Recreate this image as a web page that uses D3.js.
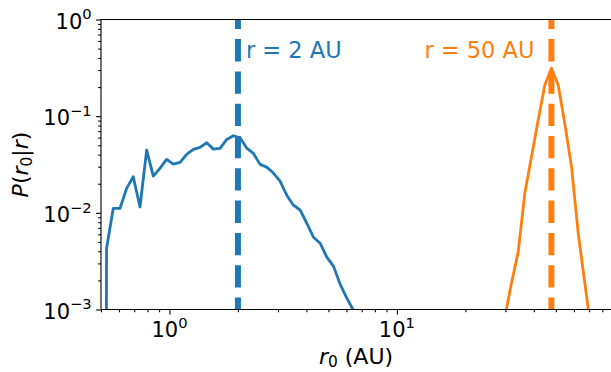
<!DOCTYPE html>
<html>
<head>
<meta charset="utf-8">
<script src="https://cdn.jsdelivr.net/npm/d3@7"></script>
<style>
  body { margin: 0; background: #fff; }
  svg { display: block; font-family: "DejaVu Sans", sans-serif; }
</style>
</head>
<body>
<div id="chart"></div>
<script>
// P(r0 | r) for r = 2 AU (blue) and r = 50 AU (orange)
var blueX = [0.495, 0.529, 0.566, 0.606, 0.648, 0.693, 0.742, 0.794, 0.849, 0.908, 0.972,
             1.040, 1.113, 1.190, 1.274, 1.362, 1.458, 1.560, 1.669, 1.785, 1.910, 2.044,
             2.186, 2.339, 2.502, 2.677, 2.864, 3.064, 3.279, 3.508, 3.753, 4.015, 4.295,
             4.596, 4.917, 5.260, 5.628, 6.022, 6.442]
var blueY = [1e-30, 0.00431, 0.0111, 0.0111, 0.0179, 0.0236, 0.0115, 0.0446, 0.0240, 0.0288, 0.0357,
             0.0319, 0.0332, 0.0403, 0.0453, 0.0475, 0.0531, 0.0456, 0.0464, 0.0575, 0.0627, 0.0598,
             0.0468, 0.0412, 0.0317, 0.0297, 0.0258, 0.0213, 0.0152, 0.0120, 0.0107, 0.00782, 0.00560,
             0.00485, 0.00348, 0.00281, 0.00183, 0.00131, 0.00098]

var orangeX = [29.81, 31.89, 34.14, 36.50, 39.05, 41.80, 44.71, 47.83, 51.19, 54.74, 58.58, 62.69, 67.03, 71.74]
var orangeY = [0.00083, 0.00187, 0.00395, 0.0159, 0.0377, 0.0911, 0.210, 0.313, 0.210, 0.0828, 0.0299, 0.00612, 0.00187, 0.00057]

var refLines = [2, 47.8]
var refLabels = ["r = 2 AU", "r = 50 AU"]
var colors = ["#1f77b4", "#ff7f0e"]

var xTickExp = [0, 1]
var yTickExp = [-3, -2, -1, 0]

var W = 611, H = 372
// plot box (window.top is reserved, so prefix these)
var pLeft = 101, pRight = 611.5, pTop = 19.5, pBottom = 309.5

var svg = d3.select("#chart").append("svg")
  .attr("width", W)
  .attr("height", H)

var x = d3.scaleLog().domain([0.5, 87.8]).range([pLeft, pRight])
var y = d3.scaleLog().domain([1e-3, 1]).range([pBottom, pTop])

svg.append("clipPath").attr("id", "plotclip")
  .append("rect")
  .attr("x", pLeft).attr("y", pTop)
  .attr("width", pRight - pLeft).attr("height", pBottom - pTop)

var plot = svg.append("g").attr("clip-path", "url(#plotclip)")

var line = d3.line()
  .x(function(d) { return x(d[0]) })
  .y(function(d) { return y(d[1]) })

var series = [d3.zip(blueX, blueY), d3.zip(orangeX, orangeY)]

series.forEach(function(s, i) {
  plot.append("path")
    .datum(s)
    .attr("d", line)
    .attr("fill", "none")
    .attr("stroke", colors[i])
    .attr("stroke-width", 2.8)
    .attr("stroke-linejoin", "round")
    .attr("stroke-linecap", "square")
})

// dashed reference lines, drawn bottom -> top like axvline
refLines.forEach(function(r, i) {
  plot.append("line")
    .attr("x1", x(r)).attr("x2", x(r))
    .attr("y1", pBottom).attr("y2", pTop)
    .attr("stroke", colors[i])
    .attr("stroke-width", 6)
    .attr("stroke-dasharray", "22.3,10")
    .attr("stroke-dashoffset", 10.3)
})

// ticks
function minorTicks(lo, hi) {
  var out = []
  for (var e = lo; e < hi; e++) {
    for (var m = 2; m <= 9; m++) out.push(m * Math.pow(10, e))
  }
  return out
}

var xMinor = minorTicks(-1, 2).filter(function(v) { return v >= 0.5 && v <= 87.8 })
var yMinor = minorTicks(-3, 0)

var gx = svg.append("g").attr("transform", "translate(0," + pBottom + ")")
gx.call(d3.axisBottom(x).tickValues(xTickExp.map(function(e) { return Math.pow(10, e) })).tickSize(4.9).tickFormat(""))
gx.append("g").call(d3.axisBottom(x).tickValues(xMinor).tickSize(2.8).tickFormat(""))
gx.selectAll(".domain").remove()

var gy = svg.append("g").attr("transform", "translate(" + pLeft + ",0)")
gy.call(d3.axisLeft(y).tickValues(yTickExp.map(function(e) { return Math.pow(10, e) })).tickSize(4.9).tickFormat(""))
gy.append("g").call(d3.axisLeft(y).tickValues(yMinor).tickSize(2.8).tickFormat(""))
gy.selectAll(".domain").remove()

svg.selectAll(".tick line").attr("stroke", "#000").attr("stroke-width", 1.1)

// spines: left, bottom, top
svg.append("path")
  .attr("d", "M" + (pRight + 5) + "," + pTop + "H" + pLeft + "V" + pBottom + "H" + (pRight + 5))
  .attr("fill", "none")
  .attr("stroke", "#000")
  .attr("stroke-width", 1.1)

// tick labels 10^n
var tickFont = 21
function expLabel(sel, e) {
  sel.append("tspan").text("10")
  sel.append("tspan")
    .attr("font-size", tickFont * 0.7)
    .attr("dy", -tickFont * 0.44)
    .text(e < 0 ? "\u2212" + (-e) : String(e))
}

xTickExp.forEach(function(e) {
  var t = svg.append("text")
    .attr("x", x(Math.pow(10, e)))
    .attr("y", 337)
    .attr("text-anchor", "middle")
    .attr("font-size", tickFont)
    .attr("fill", "#000")
  expLabel(t, e)
})

yTickExp.forEach(function(e) {
  var t = svg.append("text")
    .attr("x", pLeft - 4.9 - 4.4)
    .attr("y", y(Math.pow(10, e)) + 9)
    .attr("text-anchor", "end")
    .attr("font-size", tickFont)
    .attr("fill", "#000")
  expLabel(t, e)
})

// axis labels
var xl = svg.append("text")
  .attr("x", (pLeft + W) / 2)
  .attr("y", 363.5)
  .attr("text-anchor", "middle")
  .attr("font-size", 22)
  .attr("fill", "#000")
xl.append("tspan").attr("font-style", "italic").text("r")
xl.append("tspan").attr("font-size", 15.4).attr("dy", 3.8).text("0")
xl.append("tspan").attr("dy", -3.8).text(" (AU)")

var yl = svg.append("text")
  .attr("transform", "translate(28," + ((pTop + pBottom) / 2) + ") rotate(-90)")
  .attr("text-anchor", "middle")
  .attr("font-size", 22)
  .attr("fill", "#000")
yl.append("tspan").attr("font-style", "italic").text("P")
yl.append("tspan").text("(")
yl.append("tspan").attr("font-style", "italic").text("r")
yl.append("tspan").attr("font-size", 15.4).attr("dy", 3.8).text("0")
yl.append("tspan").attr("dy", -3.8).text("|")
yl.append("tspan").attr("font-style", "italic").text("r")
yl.append("tspan").text(")")

// annotations
svg.append("text")
  .attr("x", x(refLines[0]) + 8)
  .attr("y", 58.3)
  .attr("font-size", 22.5)
  .attr("fill", colors[0])
  .text(refLabels[0])

svg.append("text")
  .attr("x", x(refLines[1]) - 17)
  .attr("y", 58.3)
  .attr("text-anchor", "end")
  .attr("font-size", 22.5)
  .attr("fill", colors[1])
  .text(refLabels[1])
</script>
</body>
</html>
